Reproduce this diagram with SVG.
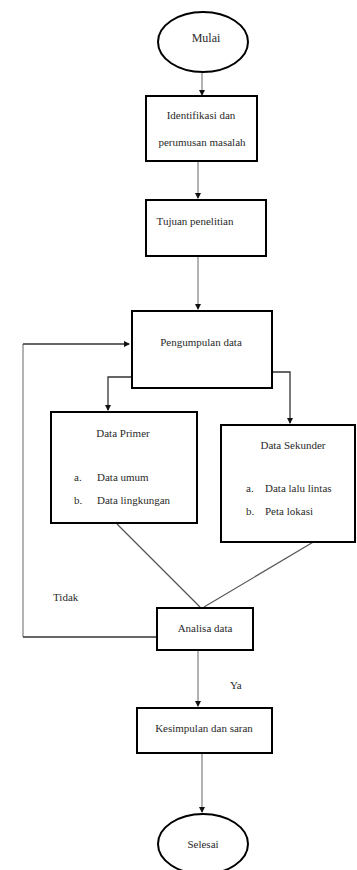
<svg xmlns="http://www.w3.org/2000/svg" width="357" height="870" viewBox="0 0 357 870" font-family="'Liberation Serif', 'Times New Roman', serif">
<style>
.box{fill:#fff;stroke:#000;stroke-width:2}
.t{font-family:'Liberation Serif','Times New Roman',serif;font-size:11px;fill:#2a2a2a}
.c{text-anchor:middle}
.v{fill:none;stroke:#999;stroke-width:1.5}
.h{fill:none;stroke:#333;stroke-width:1.3}
.d{fill:none;stroke:#555;stroke-width:1.2}
</style>
<defs>
<marker id="ah" markerWidth="6" markerHeight="6" refX="5" refY="3" orient="auto" markerUnits="userSpaceOnUse">
<path d="M0,0 L6,3 L0,6 Z" fill="#111"/>
</marker>
</defs>
<rect width="357" height="870" fill="#fff"/>
<g id="connectors">
<line class="v" x1="202" y1="73" x2="202" y2="95" marker-end="url(#ah)"/>
<line class="v" x1="198" y1="161" x2="198" y2="198" marker-end="url(#ah)"/>
<line class="v" x1="198" y1="256" x2="198" y2="309" marker-end="url(#ah)"/>
<polyline class="h" points="132,377 108,377 108,410" marker-end="url(#ah)"/>
<polyline class="h" points="272,372 290,372 290,423" marker-end="url(#ah)"/>
<line class="d" x1="117" y1="524" x2="200" y2="607"/>
<line class="d" x1="315" y1="541" x2="204" y2="607"/>
<line class="v" x1="23" y1="637" x2="23" y2="344"/>
<line class="h" x1="157" y1="637" x2="23" y2="637"/>
<line class="h" x1="23" y1="344" x2="129" y2="344" marker-end="url(#ah)"/>
<line class="v" x1="198" y1="651" x2="198" y2="706" marker-end="url(#ah)"/>
<line class="v" x1="202" y1="754" x2="202" y2="812" marker-end="url(#ah)"/>
</g>
<g id="mulai">
<ellipse class="box" cx="203" cy="42" rx="45" ry="30"/>
<text class="t c" x="206" y="42" style="font-size:12px">Mulai</text>
</g>
<g id="identifikasi">
<rect class="box" x="146" y="96" width="111" height="65"/>
<text class="t c" x="201" y="119">Identifikasi dan</text>
<text class="t c" x="202" y="146">perumusan masalah</text>
</g>
<g id="tujuan">
<rect class="box" x="146" y="200" width="120" height="56"/>
<text class="t c" x="195" y="225">Tujuan penelitian</text>
</g>
<g id="pengumpulan">
<rect class="box" x="132" y="311" width="140" height="77"/>
<text class="t c" x="201" y="346">Pengumpulan data</text>
</g>
<g id="data-primer">
<rect class="box" x="51" y="412" width="146" height="111"/>
<text class="t c" x="123" y="437">Data Primer</text>
<text class="t" x="74" y="481">a.</text>
<text class="t" x="97" y="481">Data umum</text>
<text class="t" x="74" y="504">b.</text>
<text class="t" x="97" y="504">Data lingkungan</text>
</g>
<g id="data-sekunder">
<rect class="box" x="221" y="425" width="134" height="117"/>
<text class="t c" x="293" y="449">Data Sekunder</text>
<text class="t" x="246" y="492">a.</text>
<text class="t" x="265" y="492">Data lalu lintas</text>
<text class="t" x="246" y="515">b.</text>
<text class="t" x="265" y="515">Peta lokasi</text>
</g>
<g id="analisa">
<rect class="box" x="157" y="608" width="96" height="42"/>
<text class="t c" x="205" y="632">Analisa data</text>
</g>
<g id="label-tidak"><text class="t" x="53" y="601">Tidak</text></g>
<g id="label-ya"><text class="t" x="230" y="689">Ya</text></g>
<g id="kesimpulan">
<rect class="box" x="137" y="708" width="135" height="45"/>
<text class="t c" x="204" y="732">Kesimpulan dan saran</text>
</g>
<g id="selesai">
<ellipse class="box" cx="203" cy="844" rx="45" ry="30"/>
<text class="t c" x="203" y="848">Selesai</text>
</g>
</svg>
